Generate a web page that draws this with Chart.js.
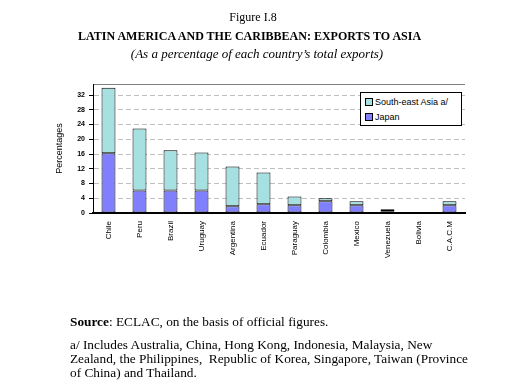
<!DOCTYPE html>
<html>
<head>
<meta charset="utf-8">
<script src="https://cdn.jsdelivr.net/npm/chart.js@4"></script>
<style>
  body { margin: 0; background: #fff; }
  #wrap { position: relative; width: 529px; height: 392px; overflow: hidden; }
  #chart { position: absolute; left: 0; top: 0; }
  .t { position: absolute; font-family: "Liberation Serif", serif; font-size: 12px; color: #000; white-space: nowrap; }
  .n { font-size: 13.3px; }
  #legend { position: absolute; left: 360px; top: 92px; width: 100px; height: 32px; border: 1px solid #000; background: #fff;
            font-family: "Liberation Sans", Arial, sans-serif; font-size: 9px; }
  .lg { position: absolute; left: 4px; }
  .sw { display: inline-block; width: 6px; height: 6px; border: 1px solid #000; margin-right: 2px; vertical-align: -1px; }
</style>
</head>
<body>
<div id="wrap">
  <canvas id="chart" width="529" height="392"></canvas>
  <div class="t" style="left:0;width:506px;top:10px;text-align:center;">Figure I.8</div>
  <div class="t" style="left:78px;top:29px;font-weight:bold;">LATIN AMERICA AND THE CARIBBEAN: EXPORTS TO ASIA</div>
  <div class="t" style="left:0;width:514px;top:46px;text-align:center;font-style:italic;font-size:13px;">(As a percentage of each country’s total exports)</div>
  <div id="legend">
    <div class="lg" style="top:4px;"><span class="sw" style="background:#a6e0e0"></span>South-east Asia a/</div>
    <div class="lg" style="top:19px;"><span class="sw" style="background:#8080ff"></span>Japan</div>
  </div>
  <div class="t n" style="left:70px;top:314px;"><b>Source</b>: ECLAC, on the basis of official figures.</div>
  <div class="t n" style="left:70px;top:337px;">a/ Includes Australia, China, Hong Kong, Indonesia, Malaysia, New</div>
  <div class="t n" style="left:70px;top:351px;">Zealand, the Philippines,&nbsp; Republic of Korea, Singapore, Taiwan (Province</div>
  <div class="t n" style="left:70px;top:365px;">of China) and Thailand.</div>
</div>
<script>
var countries = ["Chile", "Peru", "Brazil", "Uruguay", "Argentina", "Ecuador", "Paraguay",
                 "Colombia", "Mexico", "Venezuela", "Bolivia", "C.A.C.M"];
var japan = [16.2, 6.1, 6.1, 6.1, 1.8, 2.4, 2.1, 3.2, 2.1, 0.5, 0.1, 2.1];
var southEastAsia = [17.8, 16.8, 10.9, 10.3, 10.8, 8.6, 2.4, 0.8, 1.1, 0.5, 0.2, 1.1];

// grey frame line on top and a solid black value axis
var frame = {
  id: 'frame',
  afterDraw: function(chart) {
    var a = chart.chartArea, c = chart.ctx;
    c.save();
    c.lineWidth = 1;
    c.strokeStyle = '#808080';
    c.beginPath();
    c.moveTo(a.left, a.top + 0.5);
    c.lineTo(a.right, a.top + 0.5);
    c.stroke();
    c.strokeStyle = '#000';
    c.beginPath();
    c.moveTo(a.left + 0.5, a.top);
    c.lineTo(a.left + 0.5, a.bottom);
    c.stroke();
    c.restore();
  }
};

var ctx = document.getElementById("chart").getContext("2d");
new Chart(ctx, {
  type: 'bar',
  data: {
    labels: countries,
    datasets: [{
      label: "Japan",
      data: japan,
      backgroundColor: '#8080ff',
      borderColor: '#000',
      borderWidth: 1,
      borderSkipped: false
    }, {
      label: "South-east Asia a/",
      data: southEastAsia,
      backgroundColor: '#a6e0e0',
      borderColor: '#000',
      borderWidth: 1,
      borderSkipped: false
    }]
  },
  options: {
    responsive: false,
    animation: false,
    datasets: { bar: { barPercentage: 0.45, categoryPercentage: 1 } },
    layout: { padding: { top: 84, left: 54, right: 64, bottom: 0 } },
    plugins: { legend: { display: false }, tooltip: { enabled: false } },
    scales: {
      x: {
        stacked: true,
        grid: { display: false },
        border: { color: '#000', width: 2 },
        ticks: {
          color: '#000', minRotation: 90, maxRotation: 90, padding: 0,
          font: { family: 'Liberation Sans', size: 8 }
        },
        afterFit: function(s) { s.height = 179; }
      },
      y: {
        stacked: true,
        min: 0, max: 35,
        border: { color: '#000', width: 1, dash: [5, 3] },
        grid: { color: '#c0c0c0', tickColor: '#000', tickLength: 4, tickBorderDash: [0, 0] },
        ticks: { stepSize: 4, color: '#000', padding: 4, font: { family: 'Liberation Sans', size: 7, weight: 'bold' } },
        afterBuildTicks: function(s) { s.ticks = s.ticks.filter(function(t) { return t.value % 4 === 0; }); },
        title: { display: true, text: 'Percentages', color: '#000', padding: 0, font: { family: 'Liberation Sans', size: 9 } },
        afterFit: function(s) { s.width = 39; }
      }
    }
  },
  plugins: [frame]
});
</script>
</body>
</html>
